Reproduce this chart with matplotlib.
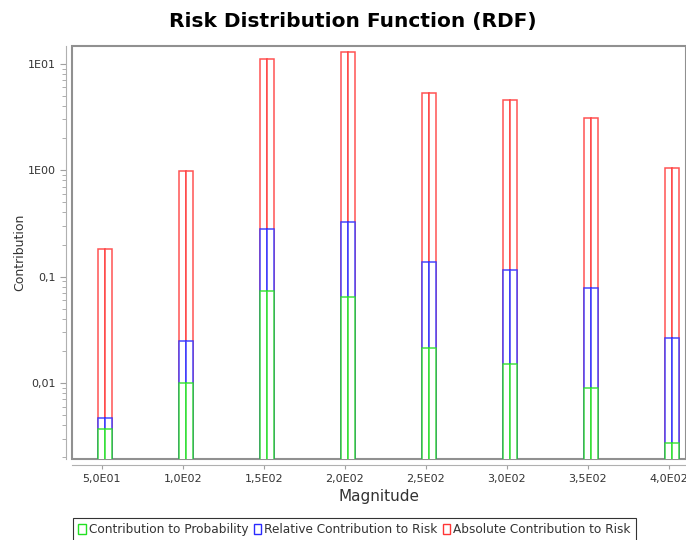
import numpy as np
import matplotlib
matplotlib.use("Agg")
from matplotlib import pyplot as plt
from matplotlib.patches import Patch
from matplotlib.ticker import FixedLocator, FixedFormatter, LogLocator, NullFormatter

magnitude = [50, 100, 150, 200, 250, 300, 350, 400]
xlabels = ["5,0E01", "1,0E02", "1,5E02", "2,0E02", "2,5E02", "3,0E02", "3,5E02", "4,0E02"]
prob = [0.0036, 0.0098, 0.0736, 0.0643, 0.021, 0.0151, 0.0088, 0.0026]
rel_risk = [0.0046, 0.0248, 0.281, 0.327, 0.137, 0.115, 0.078, 0.0265]
abs_risk = [0.181, 0.99, 11.0, 12.8, 5.3, 4.54, 3.08, 1.04]
yticks = [0.01, 0.1, 1, 10]
ylabels = ["0,01", "0,1", "1E00", "1E01"]

green = "#22e022"
blue = "#2a2aff"
red = "#ff3535"

fig = plt.figure(figsize=(6.86, 5.4), dpi=100)
ax = fig.add_axes([0.105, 0.15, 0.895, 0.765])
ax.set_yscale("log")
ax.set_ylim(0.00193, 14.7)
ax.set_xlim(31.7, 410.5)

x = np.array(magnitude, dtype=float) + 2
w = 4.4
# each bar is drawn as two thin halves, red behind, green in front
for vals, col in [(abs_risk, red), (rel_risk, blue), (prob, green)]:
    for off in (-w / 2, w / 2):
        ax.bar(x + off, vals, width=w, bottom=1e-4, facecolor="white",
               edgecolor=col, linewidth=1.1, alpha=0.85)

ax.set_xticks(magnitude)
ax.set_xticklabels(xlabels)
ax.yaxis.set_major_locator(FixedLocator(yticks))
ax.yaxis.set_major_formatter(FixedFormatter(ylabels))
ax.yaxis.set_minor_locator(LogLocator(base=10, subs=np.arange(2, 10)))
ax.yaxis.set_minor_formatter(NullFormatter())

for s in ["top", "right"]:
    ax.spines[s].set_visible(False)
for s in ["left", "bottom"]:
    ax.spines[s].set_position(("outward", 4))
    ax.spines[s].set_color("#b0b0b0")
ax.patch.set_edgecolor("#909090")
ax.patch.set_linewidth(1.5)

ax.tick_params(axis="both", which="both", colors="#a0a0a0", labelcolor="#333333",
               labelsize=8)
ax.tick_params(axis="y", which="major", length=4)
ax.tick_params(axis="y", which="minor", length=3)
ax.tick_params(axis="x", length=3)

ax.set_xlabel("Magnitude", fontsize=11, color="#333333", labelpad=4)
ax.set_ylabel("Contribution", fontsize=9, color="#333333", labelpad=1)

fig.text(0.515, 0.961, "Risk Distribution Function (RDF)", ha="center", va="center",
         fontsize=14.5, fontweight="heavy",
         family=["DejaVu Sans"])

handles = [Patch(facecolor="white", edgecolor=green, label="Contribution to Probability"),
           Patch(facecolor="white", edgecolor=blue, label="Relative Contribution to Risk"),
           Patch(facecolor="white", edgecolor=red, label="Absolute Contribution to Risk")]
leg = fig.legend(handles=handles, loc="lower center", bbox_to_anchor=(0.517, -0.003),
                 ncol=3, fontsize=8.7, fancybox=False, edgecolor="black",
                 handlelength=0.6, handleheight=1.0, handletextpad=0.3,
                 columnspacing=0.4, borderpad=0.45, borderaxespad=0)
leg.get_frame().set_linewidth(0.8)
for t in leg.get_texts():
    t.set_color("#333333")

fig.savefig("out.png", dpi=100)
